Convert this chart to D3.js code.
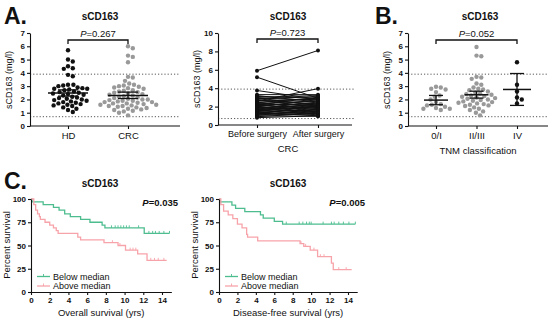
<!DOCTYPE html>
<html><head><meta charset="utf-8">
<script src="https://cdn.jsdelivr.net/npm/d3@7"></script>
<style>
body{margin:0;background:#fff;}
text{font-family:"Liberation Sans",Arial,sans-serif;}
</style></head>
<body><svg id="c" width="550" height="321"></svg>
<script>
// ---------- DATA ----------
const groupsA = ["HD", "CRC"];
const hdValues = [5.7,5.0,4.85,4.5,4.35,4.3,3.85,3.75,3.1,3.1,3.05,3.0,2.9,2.85,2.8,2.8,2.75,2.7,2.6,2.55,2.5,2.45,2.4,2.35,2.3,2.2,2.15,2.1,2.05,2.0,1.95,1.9,1.85,1.8,1.75,1.7,1.65,1.6,1.55,1.5,1.4,1.3,1.2,1.05];
const crcValues = [6.0,5.85,5.3,5.2,4.8,3.7,3.65,3.4,3.2,3.1,3.05,3.0,2.95,2.9,2.85,2.8,2.7,2.65,2.6,2.55,2.5,2.45,2.4,2.35,2.3,2.25,2.2,2.15,2.1,2.05,2.0,2.0,1.95,1.9,1.9,1.85,1.8,1.8,1.75,1.7,1.7,1.65,1.6,1.6,1.55,1.5,1.5,1.45,1.4,1.35,1.3,1.25,1.2,1.15,1.1,1.0,0.8];
const meanA = [2.48, 2.3];
const errLowA = [2.25, 2.07];
const errHighA = [2.72, 2.55];

const pairGroups = ["Before surgery", "After surgery"];
const beforeValues = [5.9,5.2,3.75,2.6,3.3,3.2,3.1,3.0,2.95,2.9,2.8,2.75,2.7,2.6,2.5,2.45,2.4,2.35,2.3,2.25,2.2,2.15,2.1,2.05,2.0,1.95,1.9,1.85,1.8,1.75,1.7,1.65,1.6,1.55,1.5,1.45,1.4,1.35,1.3,1.25,1.2,1.15,1.1,1.05,1.0,0.9,0.8];
const afterValues  = [8.1,2.9,2.8,3.95,3.3,2.5,2.9,3.2,2.1,2.7,3.1,1.9,2.3,2.8,1.6,2.95,2.0,2.6,1.4,2.2,3.0,1.8,2.4,1.3,2.75,1.7,2.1,1.2,2.5,1.9,1.5,2.3,1.1,2.0,1.6,2.2,1.4,1.0,1.8,1.3,2.1,1.5,1.2,1.7,0.95,1.3,1.0];

const stagesB = ["0/I", "II/III", "IV"];
const stage1Values = [2.95,2.9,2.8,2.75,2.55,2.3,2.2,2.0,1.8,1.65,1.6,1.55,1.45,1.35,1.3,1.3,1.2];
const stage2Values = [5.95,5.3,5.25,3.7,3.65,3.55,3.2,3.1,2.9,2.8,2.75,2.7,2.6,2.5,2.45,2.4,2.35,2.3,2.25,2.2,2.15,2.1,2.05,2.0,1.95,1.9,1.85,1.8,1.75,1.7,1.65,1.6,1.55,1.5,1.4,1.3,1.2,1.1,1.0,0.8];
const stage4Values = [4.8,3.1,2.6,2.15,2.0,1.7];
const meanB = [1.95, 2.35, 2.75];
const errLowB = [1.6, 2.1, 1.55];
const errHighB = [2.3, 2.62, 3.95];

const refLines = [3.9, 0.7];
const pLabels = ["=0.267", "=0.723", "=0.052", "=0.035", "=0.005"];

const yTicks7 = [0,1,2,3,4,5,6,7];
const yTicks10 = [0,2,4,6,8,10];
const kmYTicks = [0,25,50,75,100];
const kmXTicks = [0,2,4,6,8,10,12,14];
const kmSeries = ["Below median", "Above median"];

// KM steps [time, percent]
const osBelow = [[0,100],[0.1,97],[1.3,94],[2.4,91],[3.0,88],[3.6,84],[4.2,81],[5.3,78],[6.3,75],[7.6,72],[7.9,69],[12.1,63],[14.8,63]];
const osAbove = [[0,100],[0.3,94],[0.5,88],[0.7,84],[0.9,81],[1.0,78],[1.5,75],[2.0,72],[2.4,69],[2.7,66],[2.9,63],[5.0,59],[5.3,56],[7.8,53],[9.3,50],[10.1,45],[11.4,41],[12.4,34],[14.5,34]];
const osBelowCens = [8.6,9.0,9.3,9.6,9.9,10.2,10.5,11.5,12.6,13.0,13.3,13.7,14.2,14.8];
const osAboveCens = [8.7,9.5,10.6,10.9,11.2,12.8,13.2,13.6,14.2];
const dfsBelow = [[0,100],[0.1,97],[1.4,93.5],[1.8,90],[2.8,86.5],[4.5,83],[4.8,79.5],[6.0,76],[6.9,73],[14.8,73]];
const dfsAbove = [[0,100],[0.2,94],[0.5,87],[1.0,83],[1.5,79],[2.0,73],[2.5,69],[3.0,62],[3.1,59],[4.2,55],[8.8,52],[9.2,49],[9.9,45],[10.7,38],[12.2,31],[12.4,24],[14.4,24]];
const dfsBelowCens = [7.3,8.7,9.1,9.5,9.8,10.0,11.3,12.2,12.5,13.0,13.5,14.1,14.8];
const dfsAboveCens = [8.9,9.4,10.3,11.0,11.4,13.0,13.8];

// ---------- DRAW ----------
const svg = d3.select("#c");
const GREEN = "#4dbd8f", PINK = "#f7a3aa", GRAY = "#999999";
const FONT = '"Liberation Sans",Arial,sans-serif';

function text(x, y, s, o = {}) {
  const t = svg.append("text").attr("x", x).attr("y", y).text(s)
    .attr("font-size", o.size || 9.5).attr("fill", "#111")
    .attr("text-anchor", o.anchor || "middle");
  if (o.bold) t.attr("font-weight", "bold");
  if (o.rotate) t.attr("transform", `rotate(-90,${x},${y})`);
  return t;
}
function pText(x, y, s, bold, anchor) {
  const t = svg.append("text").attr("x", x).attr("y", y).attr("font-size", 9.5)
    .attr("text-anchor", anchor || "middle").attr("fill", "#111");
  if (bold) t.attr("font-weight", "bold");
  t.append("tspan").attr("font-style", "italic").text("P");
  t.append("tspan").text(s);
}

function yAxis(x, y, ticks) {
  const g = svg.append("g").attr("transform", `translate(${x},0)`)
    .call(d3.axisLeft(y).tickValues(ticks).tickSize(3).tickSizeOuter(0).tickPadding(2).tickFormat(d3.format("d")));
  g.selectAll("text").attr("font-size", 8).attr("font-weight", "bold").attr("font-family", FONT).attr("fill", "#111");
  g.selectAll("line,path").attr("stroke", "#111").attr("stroke-width", 1.1);
  return g;
}
function xCatAxis(y, x, x0, x1, size) {
  svg.append("line").attr("x1", x0).attr("x2", x1).attr("y1", y).attr("y2", y).attr("stroke", "#111").attr("stroke-width", 1.1);
  const g = svg.append("g").attr("transform", `translate(0,${y})`)
    .call(d3.axisBottom(x).tickSize(3).tickPadding(3));
  g.select(".domain").remove();
  g.selectAll("text").attr("font-size", size || 9.5).attr("font-family", FONT).attr("fill", "#111");
  g.selectAll("line").attr("stroke", "#111").attr("stroke-width", 1.1);
}
function refs(y, x0, x1) {
  refLines.forEach(v => svg.append("line").attr("x1", x0).attr("x2", x1)
    .attr("y1", y(v)).attr("y2", y(v)).attr("stroke", "#444").attr("stroke-width", 0.9)
    .attr("stroke-dasharray", "1.2,2"));
}
function bracket(xa, xb, yb, label) {
  svg.append("path").attr("d", `M${xa},${yb + 4}V${yb}H${xb}V${yb + 4}`)
    .attr("fill", "none").attr("stroke", "#111").attr("stroke-width", 1.3);
  pText((xa + xb) / 2, yb - 3, label, false);
}
function swarm(values, y, cx, r) {
  const placed = [];
  const sorted = values.map(v => ({v, py: y(v)})).sort((a, b) => a.py - b.py);
  sorted.forEach(p => {
    for (let k = 0; k < 400; k++) {
      const off = (k % 2 ? 1 : -1) * Math.ceil(k / 2) * 0.6;
      const px = cx + off;
      if (placed.every(q => (q.px - px) ** 2 + (q.py - p.py) ** 2 >= (2 * r + 0.4) ** 2)) {
        p.px = px; placed.push(p); break;
      }
    }
  });
  return placed;
}
function meanErr(cx, m, lo, hi, y, hw, cw) {
  const s = "#111";
  svg.append("line").attr("x1", cx - hw).attr("x2", cx + hw).attr("y1", y(m)).attr("y2", y(m)).attr("stroke", s).attr("stroke-width", 1.5);
  svg.append("line").attr("x1", cx).attr("x2", cx).attr("y1", y(lo)).attr("y2", y(hi)).attr("stroke", s).attr("stroke-width", 1.3);
  [lo, hi].forEach(v => svg.append("line").attr("x1", cx - cw).attr("x2", cx + cw).attr("y1", y(v)).attr("y2", y(v)).attr("stroke", s).attr("stroke-width", 1.3));
}

// Panel letters
text(4, 24, "A.", {size: 23, bold: true, anchor: "start"});
text(375, 24, "B.", {size: 23, bold: true, anchor: "start"});
text(4, 189, "C.", {size: 23, bold: true, anchor: "start"});

// ----- Panel A left -----
{
  const y = d3.scaleLinear().domain([0, 7]).range([126, 33]);
  const x = d3.scalePoint().domain(groupsA).range([68, 128]);
  text(100, 20, "sCD163", {size: 10, bold: true});
  refs(y, 30, 180);
  yAxis(30, y, yTicks7);
  xCatAxis(126, x, 30, 180);
  text(12, 80, "sCD163 (mg/l)", {size: 9, rotate: true});
  [[hdValues, "#111"], [crcValues, GRAY]].forEach(([vals, col], i) => {
    swarm(vals, y, x(groupsA[i]), 2.2).forEach(p =>
      svg.append("circle").attr("cx", p.px).attr("cy", p.py).attr("r", 2.2).attr("fill", col));
  });
  groupsA.forEach((g, i) => meanErr(x(g), meanA[i], errLowA[i], errHighA[i], y, 20, 10));
  bracket(68, 128, 40, pLabels[0]);
}

// ----- Panel A middle -----
{
  const y = d3.scaleLinear().domain([0, 10]).range([125, 33]);
  const x = d3.scalePoint().domain(pairGroups).range([257, 318]);
  text(288, 20, "sCD163", {size: 10, bold: true});
  refs(y, 218, 354);
  beforeValues.forEach((b, i) => {
    svg.append("line").attr("x1", x(pairGroups[0])).attr("x2", x(pairGroups[1]))
      .attr("y1", y(b)).attr("y2", y(afterValues[i])).attr("stroke", "#111").attr("stroke-width", 1);
  });
  beforeValues.forEach((b, i) => {
    svg.append("circle").attr("cx", x(pairGroups[0])).attr("cy", y(b)).attr("r", 2).attr("fill", "#111");
    svg.append("circle").attr("cx", x(pairGroups[1])).attr("cy", y(afterValues[i])).attr("r", 2).attr("fill", "#111");
  });
  yAxis(218, y, yTicks10);
  xCatAxis(125, x, 218, 352, 9);
  text(200, 79, "sCD163 (mg/l)", {size: 9, rotate: true});
  text(288, 152, "CRC", {size: 9.5});
  bracket(257, 318, 39, pLabels[1]);
}

// ----- Panel B -----
{
  const y = d3.scaleLinear().domain([0, 7]).range([126, 33]);
  const x = d3.scalePoint().domain(stagesB).range([436, 517]);
  text(480, 20, "sCD163", {size: 10, bold: true});
  refs(y, 408, 548);
  yAxis(408, y, yTicks7);
  xCatAxis(126, x, 408, 548);
  text(390, 80, "sCD163 (mg/l)", {size: 9, rotate: true});
  text(478, 154, "TNM classification", {size: 9.5});
  [[stage1Values, GRAY], [stage2Values, GRAY], [stage4Values, "#111"]].forEach(([vals, col], i) => {
    swarm(vals, y, x(stagesB[i]), 2.2).forEach(p =>
      svg.append("circle").attr("cx", p.px).attr("cy", p.py).attr("r", 2.2).attr("fill", col));
  });
  stagesB.forEach((g, i) => meanErr(x(g), meanB[i], errLowB[i], errHighB[i], y, i === 2 ? 14 : 12, 7));
  bracket(436, 517, 40, pLabels[2]);
}

// ----- KM panels -----
function km(x0, x1, title, titleX, xlabel, below, above, belowC, aboveC, pLabel, pX) {
  const x = d3.scaleLinear().domain([0, 14]).range([x0, x1]);
  const y = d3.scaleLinear().domain([0, 100]).range([292, 199]);
  text(titleX, 187, title, {size: 10, bold: true});
  const line = d3.line().x(d => x(d[0])).y(d => y(d[1])).curve(d3.curveStepAfter);
  const stepVal = (steps, t) => { let v = steps[0][1]; steps.forEach(s => { if (s[0] <= t) v = s[1]; }); return v; };
  [[below, belowC, GREEN], [above, aboveC, PINK]].forEach(([steps, cens, col]) => {
    svg.append("path").attr("d", line(steps)).attr("fill", "none").attr("stroke", col).attr("stroke-width", 1.3);
    cens.forEach(t => svg.append("line").attr("x1", x(t)).attr("x2", x(t))
      .attr("y1", y(stepVal(steps, t))).attr("y2", y(stepVal(steps, t)) - 2.5)
      .attr("stroke", col).attr("stroke-width", 0.9));
  });
  const gy = svg.append("g").attr("transform", `translate(${x0},0)`)
    .call(d3.axisLeft(y).tickValues(kmYTicks).tickSize(3).tickSizeOuter(0).tickPadding(2));
  gy.selectAll("text").attr("font-size", 8).attr("font-weight", "bold").attr("font-family", FONT).attr("fill", "#111");
  gy.selectAll("line,path").attr("stroke", "#111").attr("stroke-width", 1.1);
  const xr = d3.scaleLinear().domain([0, 15]).range([x0, x(15)]);
  const gx = svg.append("g").attr("transform", `translate(0,292)`)
    .call(d3.axisBottom(xr).tickValues(kmXTicks).tickSize(3).tickSizeOuter(0).tickPadding(2));
  gx.selectAll("text").attr("font-size", 8).attr("font-weight", "bold").attr("font-family", FONT).attr("fill", "#111");
  gx.selectAll("line,path").attr("stroke", "#111").attr("stroke-width", 1.1);
  text(x0 - 21, 245, "Percent survival", {size: 9.5, rotate: true});
  text((x0 + x(15)) / 2, 316, xlabel, {size: 9.5});
  [GREEN, PINK].forEach((col, i) => {
    const ly = 276.5 + i * 9.5;
    svg.append("line").attr("x1", x0 + 6).attr("x2", x0 + 19).attr("y1", ly).attr("y2", ly).attr("stroke", col).attr("stroke-width", 1.3);
    svg.append("line").attr("x1", x0 + 12.5).attr("x2", x0 + 12.5).attr("y1", ly).attr("y2", ly - 2.5).attr("stroke", col).attr("stroke-width", 0.9);
    text(x0 + 22, ly + 3.3, kmSeries[i], {size: 9, anchor: "start"});
  });
  pText(pX, 206, pLabel, true, "end");
}
km(31, 162, "sCD163", 100, "Overall survival (yrs)", osBelow, osAbove, osBelowCens, osAboveCens, pLabels[3], 178);
km(219, 348, "sCD163", 288, "Disease-free survival (yrs)", dfsBelow, dfsAbove, dfsBelowCens, dfsAboveCens, pLabels[4], 365);
</script></body></html>
